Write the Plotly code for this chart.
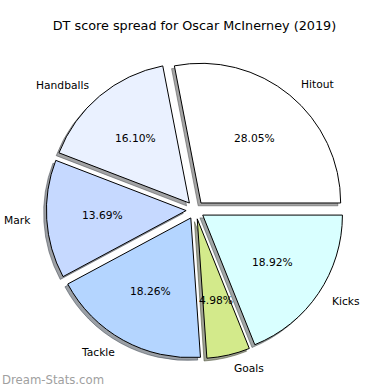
import math
import plotly.graph_objects as go

# ---- data ----
categories = ["Hitout", "Handballs", "Mark", "Tackle", "Goals", "Kicks"]
shares = [28.05, 16.10, 13.69, 18.26, 4.98, 18.92]
slice_colors = ["#ffffff", "#eaf1ff", "#c6d9ff", "#b4d5ff", "#d3ea8b", "#d9ffff"]
title_text = "DT score spread for Oscar McInerney (2019)"
watermark = "Dream-Stats.com"

# ---- geometry (pixels) ----
W = H = 390
CX, CY = 195.2, 210.0
R = 139.7
PULL = 0.065
SHADOW_OFF = 0.02 * R
LABEL_FONT = dict(family="DejaVu Sans", size=10.7, color="black")


def domain(cx, cy):
    half = R * (1 + PULL)
    return dict(x=[(cx - half) / W, (cx + half) / W],
                y=[1 - (cy + half) / H, 1 - (cy - half) / H])


def shade(hexcol):
    h = hexcol.lstrip("#")
    r, g, b = (int(h[i:i + 2], 16) for i in (0, 2, 4))
    return f"rgba({0.3 * r:.0f},{0.3 * g:.0f},{0.3 * b:.0f},0.5)"


rev_labels = categories[::-1]
rev_values = shares[::-1]
rev_colors = slice_colors[::-1]

fig = go.Figure()

# shadow
fig.add_trace(go.Pie(
    labels=rev_labels, values=rev_values, sort=False, direction="clockwise",
    rotation=90, pull=[PULL] * len(shares), textinfo="none", hoverinfo="skip",
    marker=dict(colors=[shade(c) for c in rev_colors],
                line=dict(color=[shade(c) for c in rev_colors], width=1)),
    domain=domain(CX - SHADOW_OFF, CY + SHADOW_OFF), showlegend=False,
))
# wedges
fig.add_trace(go.Pie(
    labels=rev_labels, values=rev_values, sort=False, direction="clockwise",
    rotation=90, pull=[PULL] * len(shares), textinfo="none", hoverinfo="skip",
    marker=dict(colors=rev_colors, line=dict(color="black", width=1)),
    domain=domain(CX, CY), showlegend=False,
))

# labels & percentages placed like matplotlib (labeldistance 1.1, pctdistance 0.6)
annotations = []
total = sum(shares)
cum = 0.0
for lab, v in zip(categories, shares):
    t1 = 360 * cum / total
    cum += v
    t2 = 360 * cum / total
    tm = math.radians((t1 + t2) / 2)
    c, s = math.cos(tm), math.sin(tm)
    ox, oy = CX + PULL * R * c, CY - PULL * R * s
    px, py = ox + 0.6 * R * c, oy - 0.6 * R * s
    lx, ly = ox + 1.1 * R * c, oy - 1.1 * R * s
    annotations.append(dict(x=px / W, y=1 - py / H, xref="paper", yref="paper",
                            text=f"{100 * v / total:.2f}%", showarrow=False,
                            xanchor="center", yanchor="middle", font=LABEL_FONT))
    annotations.append(dict(x=lx / W, y=1 - ly / H, xref="paper", yref="paper",
                            text=lab, showarrow=False,
                            xanchor="left" if c > 0 else "right", yanchor="middle",
                            font=LABEL_FONT))

annotations.append(dict(x=0, y=1 - 380 / H, xref="paper", yref="paper",
                        text=watermark, showarrow=False, xanchor="left",
                        yanchor="middle",
                        font=dict(family="DejaVu Sans", size=11.7, color="#a0a0a0")))

fig.update_layout(
    width=W, height=H, autosize=False,
    margin=dict(l=0, r=0, t=0, b=0),
    paper_bgcolor="white", plot_bgcolor="white",
    title=dict(text=title_text, x=194.5 / W, y=1 - 26 / H, xanchor="center",
               yanchor="middle",
               font=dict(family="DejaVu Sans", size=12.8, color="black")),
    annotations=annotations,
)

fig.write_html("out.html",
               config={"displayModeBar": False, "staticPlot": True},
               post_script="document.body.style.margin='0px';"
                           "document.body.style.overflow='hidden';")
